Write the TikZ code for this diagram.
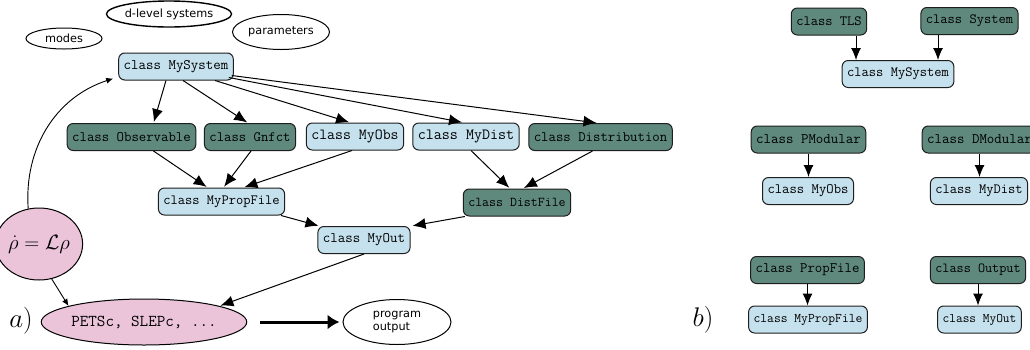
\documentclass[tikz,border=0pt]{standalone}
\usepackage{fontspec}
\newfontfamily\dejavu{DejaVu Sans}
\usetikzlibrary{arrows.meta,shapes.geometric,calc}
\definecolor{dkgreen}{RGB}{94,137,124}
\definecolor{ltblue}{RGB}{198,225,238}
\definecolor{pinkish}{RGB}{235,196,218}
\definecolor{bord}{RGB}{30,30,30}
\tikzset{
  box/.style={draw=bord, line width=1pt, rounded corners=6pt, minimum height=27pt, inner xsep=5pt, inner ysep=0pt},
  dk/.style={box, fill=dkgreen},
  lt/.style={box, fill=ltblue},
  fs/.style={font=\fontsize{#1}{#1}\selectfont\ttfamily},
  oval/.style={draw, ellipse, line width=1pt, inner sep=0pt, font=\fontsize{11.3}{13}\selectfont\dejavu},
  pinkoval/.style={draw, ellipse, line width=1pt, fill=pinkish, inner sep=0pt},
  arr/.style={-{Latex[length=13pt,width=11pt]}, line width=1pt, shorten >=1pt},
  sarr/.style={-{Latex[length=7pt,width=6pt]}, line width=0.9pt},
  varr/.style={-{Latex[length=12pt,width=10pt]}, line width=1pt},
  bigarr/.style={-{Latex[length=12pt,width=15pt]}, line width=3pt},
  lbl/.style={font=\fontsize{20.74}{20.74}\selectfont, scale=1.3, inner sep=0pt}
}
\begin{document}
\begin{tikzpicture}[x=1pt,y=-1pt]
\clip (0,0) rectangle (1030,349);
\fill[white] (0,0) rectangle (1030,349);
% ---- part a ----
\node[oval, minimum width=76, minimum height=21] (modes) at (64,38.5) {modes};
\node[oval, minimum width=107, minimum height=26, line width=1.4pt] (dlev) at (169,14) {d-level systems};
\node[oval, minimum width=97, minimum height=35] (par) at (281,32) {parameters};

\node[lt,fs=14.5] (msys) at (176,66.5) {class MySystem};
\node[dk,fs=14.4] (obs) at (131.5,137) {class Observable};
\node[dk,fs=14.3] (gnf) at (250,137) {class Gnfct};
\node[lt,fs=15.4] (myobs) at (355,136.5) {class MyObs};
\node[lt,fs=15.6] (mydist) at (466,136.5) {class MyDist};
\node[dk,fs=14.4] (distr) at (600.5,137) {class Distribution};
\node[lt,fs=14.1] (mpf) at (221.5,201.5) {class MyPropFile};
\node[dk,fs=13.5] (df) at (517,202.5) {class DistFile};
\node[lt,fs=14.5] (mout) at (364,240) {class MyOut};

\node[pinkoval, minimum width=74, minimum height=72, font=\fontsize{20.74}{20.74}\selectfont] (rho) at (39,244) {$\dot\rho=\mathcal{L}\rho$};
\node[pinkoval, minimum width=166, minimum height=46, fs=16.6] (pets) at (144,322) {PETSc, SLEPc, ...};
\node[oval, minimum width=108, minimum height=45, align=left] (prog) at (397,322) {program\\output};
\node[lbl] (la) at (21,321) {$a)$};

\draw[arr] ([xshift=-10]msys.south) -- ([xshift=22]obs.north);
\draw[arr] ([xshift=7]msys.south) -- ([xshift=-2]gnf.north);
\draw[arr] ([xshift=39]msys.south) -- ([xshift=-5]myobs.north);
\draw[arr] ([xshift=-5,yshift=3]msys.south east) -- ([xshift=-3]mydist.north);
\draw[arr] ([xshift=-2,yshift=5]msys.south east) -- ([xshift=-3]distr.north);

\draw[arr] ([xshift=22]obs.south) -- ([xshift=-14]mpf.north);
\draw[arr] ([xshift=1]gnf.south) -- ([xshift=2]mpf.north);
\draw[arr] ([xshift=-3]myobs.south) -- ([xshift=22]mpf.north);
\draw[arr] ([xshift=5]mydist.south) -- ([xshift=-7]df.north);
\draw[arr] ([xshift=-8]distr.south) -- ([xshift=6]df.north);
\draw[arr] ([xshift=-4]mpf.south east) -- ([xshift=2]mout.north west);
\draw[arr] ([xshift=2]df.south west) -- ([xshift=1]mout.north east);
\draw[arr] (mout.south) -- (pets.12);

\draw[sarr] (rho.-70) -- (pets.168);
\draw[sarr] (rho.107) to[out=94,in=198] ([xshift=-5,yshift=2]msys.south west);
\draw[bigarr] ([xshift=13]pets.east) -- ([xshift=-3]prog.west);

% ---- part b ----
\node[dk,fs=14.1] (tls) at (829,21.5) {class TLS};
\node[dk,fs=14.1] (sys) at (969.5,21) {class System};
\node[lt,fs=14.1] (msys2) at (898,74) {class MySystem};
\node[dk,fs=14.5] (pmod) at (808.5,139.5) {class PModular};
\node[dk,fs=14.5] (dmod) at (979.5,139.5) {class DModular};
\node[lt,fs=14.3] (myobs2) at (808,191) {class MyObs};
\node[lt,fs=14.1] (mydist2) at (979,191) {class MyDist};
\node[dk,fs=14.4] (pf) at (807.5,270) {class PropFile};
\node[lt,fs=13.2] (mpf2) at (808,319.5) {class MyPropFile};
\node[dk,fs=13.8] (outp) at (978,270) {class Output};
\node[lt,fs=13.0] (mout2) at (979.5,319.5) {class MyOut};
\node[lbl] (lb) at (703,320) {$b)$};

\draw[varr] ($(tls.south)+(27,0)$) -- ($(tls.south |- msys2.north)+(27,0)$);
\draw[varr] ($(sys.south)+(-31.5,0)$) -- ($(sys.south |- msys2.north)+(-31.5,0)$);
\draw[varr] (pmod.south) -- (pmod.south |- myobs2.north);
\draw[varr] (dmod.south) -- (dmod.south |- mydist2.north);
\draw[varr] (pf.south) -- (pf.south |- mpf2.north);
\draw[varr] (outp.south) -- (outp.south |- mout2.north);
\end{tikzpicture}
\end{document}
